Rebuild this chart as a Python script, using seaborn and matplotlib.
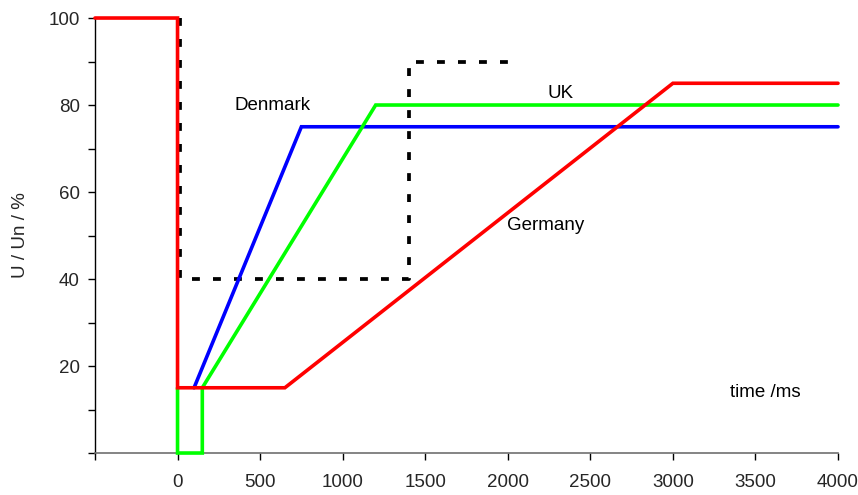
import matplotlib
matplotlib.use("Agg")
import matplotlib.pyplot as plt
import seaborn as sns

# Fault-ride-through voltage profiles (time in ms, voltage in % of nominal)
germany_t = [-500, 0, 0, 650, 3000, 4000]
germany_u = [100, 100, 15, 15, 85, 85]

uk_t = [0, 0, 150, 150, 1200, 4000]
uk_u = [15, 0, 0, 15, 80, 80]

denmark_t = [100, 750, 4000]
denmark_u = [15, 75, 75]

limit_t = [15, 15, 1400, 1400, 2000]
limit_u = [100, 40, 40, 90, 90]

x_ticks = [-500, 0, 500, 1000, 1500, 2000, 2500, 3000, 3500, 4000]
x_tick_labels = ["", "0", "500", "1000", "1500", "2000", "2500", "3000", "3500", "4000"]
y_ticks = [0, 10, 20, 30, 40, 50, 60, 70, 80, 90, 100]
y_tick_labels = ["", "", "20", "", "40", "", "60", "", "80", "", "100"]

sns.set_style("white")
plt.rcParams["font.family"] = ["Liberation Sans", "DejaVu Sans"]

fig = plt.figure(figsize=(8.58, 4.95), dpi=100)
ax = fig.add_axes([0.1107, 0.0848, 0.866, 0.8788])

lw = 2.6
sns.lineplot(x=limit_t, y=limit_u, sort=False, estimator=None, ax=ax,
             color="black", linewidth=2.7, linestyle=(0, (2.1, 3.5)), zorder=1)
sns.lineplot(x=denmark_t, y=denmark_u, sort=False, estimator=None, ax=ax,
             color="#0000FF", linewidth=lw, zorder=2)
sns.lineplot(x=uk_t, y=uk_u, sort=False, estimator=None, ax=ax,
             color="#00FF00", linewidth=lw, zorder=3)
sns.lineplot(x=germany_t, y=germany_u, sort=False, estimator=None, ax=ax,
             color="#FF0000", linewidth=lw, zorder=4)
for ln in ax.lines:
    ln.set_clip_on(False)
    ln.set_solid_joinstyle("miter")

ax.set_xlim(-500, 4000)
ax.set_ylim(0, 100)
ax.set_xticks(x_ticks)
ax.set_xticklabels(x_tick_labels)
ax.set_yticks(y_ticks)
ax.set_yticklabels(y_tick_labels)
ax.tick_params(axis="both", labelsize=13.5, length=5, width=1, color="black",
               direction="out", bottom=True, left=True, pad=6)
ax.tick_params(axis="x", pad=10)

for side in ("top", "right"):
    ax.spines[side].set_visible(False)
ax.spines["left"].set_color("black")
ax.spines["left"].set_linewidth(1)
ax.spines["bottom"].set_color("#707070")
ax.spines["bottom"].set_linewidth(1.2)

ax.set_ylabel("U / Un / %", fontsize=13.5, labelpad=14)
ax.set_xlabel("")

txt = dict(fontsize=13.5, color="black", va="center")
ax.text(345, 79.8, "Denmark", ha="left", **txt)
ax.text(2318, 82.6, "UK", ha="center", **txt)
ax.text(1997, 52.2, "Germany", ha="left", **txt)
ax.text(3346, 14.0, "time /ms", ha="left", **txt)

fig.savefig("out.png", dpi=100)
